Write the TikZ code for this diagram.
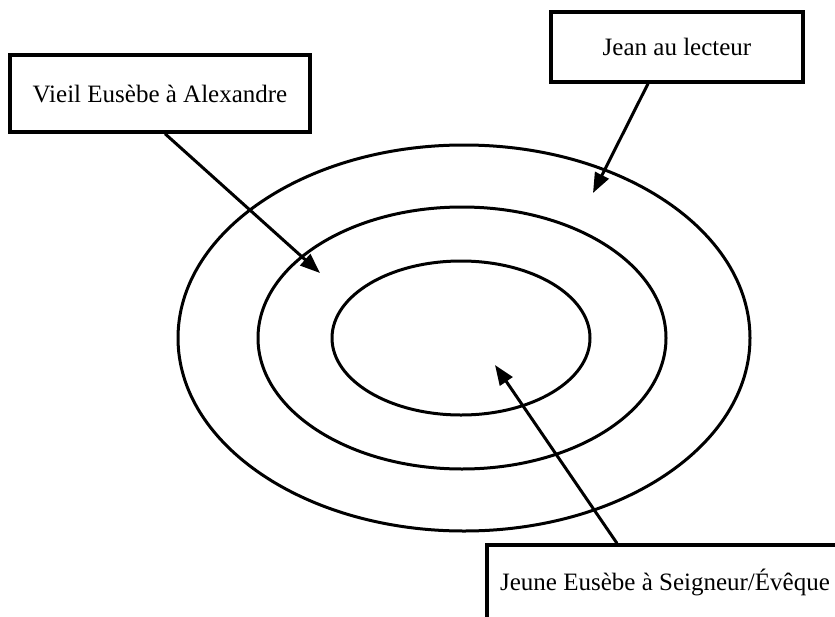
\documentclass[tikz,border=0pt]{standalone}
\usepackage{fontspec}
\setmainfont{Liberation Serif}
\usetikzlibrary{arrows.meta, positioning}
\tikzset{
  every picture/.style={line width=3pt},
  box/.style={draw, rectangle, fill=white, line width=3.4pt, inner sep=0pt, font=\fontsize{25}{30}\selectfont},
  arrow/.style={-{Triangle[length=20pt, width=15pt]}, line width=3pt},
  ring/.style={draw, line width=3pt},
}
\begin{document}
\begin{tikzpicture}[x=1pt, y=-1pt]
  \useasboundingbox (0,0) rectangle (835,616);
  % the three rings
  \draw[ring] (464,338) ellipse [x radius=286, y radius=193];
  \draw[ring] (462,338) ellipse [x radius=204, y radius=131];
  \draw[ring] (461,338) ellipse [x radius=129, y radius=77];
  % speakers
  \node[box, minimum width=300pt, minimum height=77pt] (vieil) at (160,93.5) {Vieil Eusèbe à Alexandre};
  \node[box, minimum width=252pt, minimum height=70pt] (jean) at (677,47) {Jean au lecteur};
  \node[box, minimum width=356pt, minimum height=74pt] (jeune) at (665,582) {Jeune Eusèbe à Seigneur/Évêque};
  \coordinate (tipV) at (320,273);
  \coordinate (tipJ) at (593,193);
  \coordinate (tipE) at (495,365);
  \draw[arrow] ([xshift=5pt]vieil.south) -- (tipV);
  \draw[arrow] ([xshift=-29pt]jean.south) -- (tipJ);
  \draw[arrow] ([xshift=-48pt]jeune.north) -- (tipE);
\end{tikzpicture}
\end{document}
